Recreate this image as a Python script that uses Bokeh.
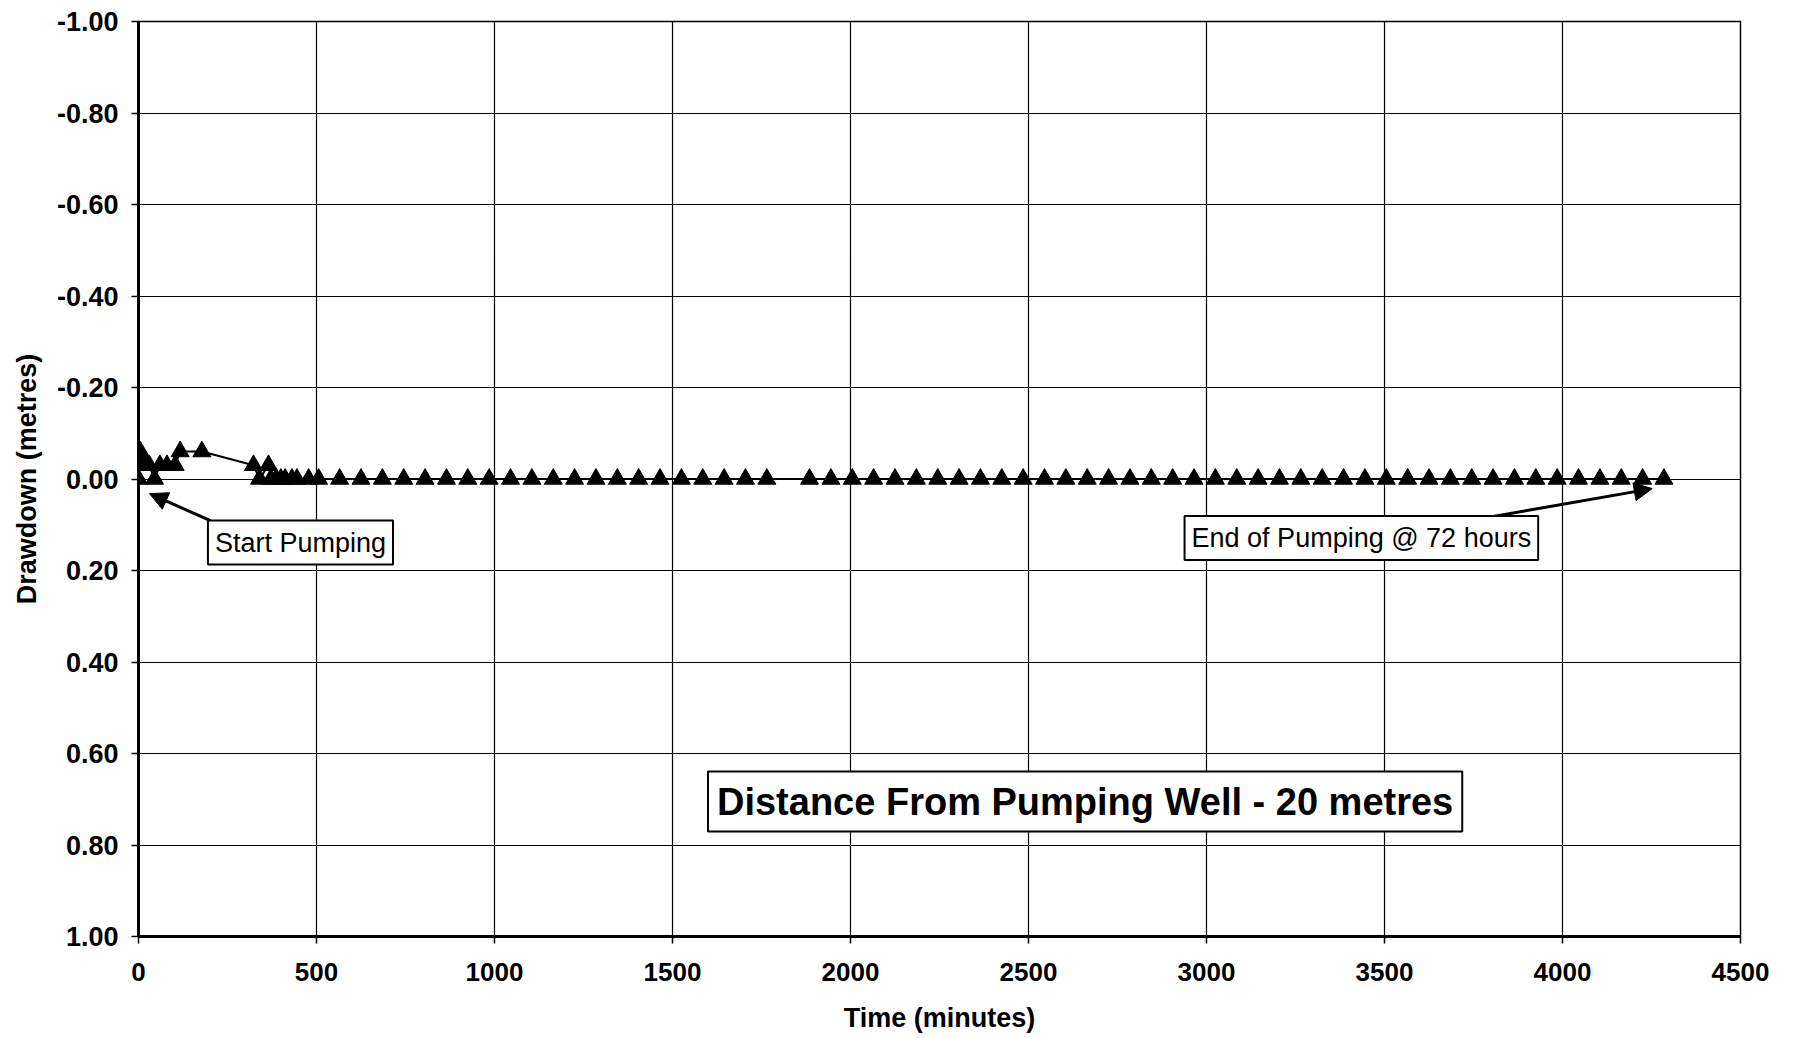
from bokeh.plotting import figure
from bokeh.models import (Range1d, FixedTicker, NumeralTickFormatter, Label,
                          Arrow, NormalHead, ColumnDataSource)
from bokeh.embed import file_html
from bokeh.resources import INLINE

# ---- data ----
time_min = [0, 5, 10, 20, 30, 45, 60, 80, 103, 117, 178, 323, 340, 365, 372,
            387, 400, 412, 431, 445, 478, 506,
            565, 625, 685, 745, 805, 865, 925, 985, 1045, 1105, 1165, 1225,
            1285, 1345, 1405, 1465, 1525, 1585, 1645, 1705, 1765,
            1885, 1945, 2005, 2065, 2125, 2185, 2245, 2305, 2365, 2425, 2485,
            2545, 2605, 2665, 2725, 2785, 2845, 2905, 2965, 3025, 3085, 3145,
            3205, 3265, 3325, 3385, 3445, 3505, 3565, 3625, 3685, 3745, 3805,
            3865, 3925, 3985, 4045, 4105, 4165, 4225, 4285]
drawdown_m = [0.00, -0.06, -0.03, -0.03, -0.03, 0.00, -0.03, -0.03, -0.03,
              -0.06, -0.06, -0.03, 0.00, -0.03, 0.00,
              0.00, 0.00, 0.00, 0.00, 0.00, 0.00, 0.00,
              0.00, 0.00, 0.00, 0.00, 0.00, 0.00, 0.00, 0.00, 0.00, 0.00, 0.00, 0.00,
              0.00, 0.00, 0.00, 0.00, 0.00, 0.00, 0.00, 0.00, 0.00,
              0.00, 0.00, 0.00, 0.00, 0.00, 0.00, 0.00, 0.00, 0.00, 0.00, 0.00,
              0.00, 0.00, 0.00, 0.00, 0.00, 0.00, 0.00, 0.00, 0.00, 0.00, 0.00,
              0.00, 0.00, 0.00, 0.00, 0.00, 0.00, 0.00, 0.00, 0.00, 0.00, 0.00,
              0.00, 0.00, 0.00, 0.00, 0.00, 0.00, 0.00, 0.00]

x_ticks = [0, 500, 1000, 1500, 2000, 2500, 3000, 3500, 4000, 4500]
x_tick_labels = ["0", "500", "1000", "1500", "2000", "2500", "3000", "3500",
                 "4000", "4500"]
y_ticks = [-1.0, -0.8, -0.6, -0.4, -0.2, 0.0, 0.2, 0.4, 0.6, 0.8, 1.0]
y_tick_labels = ["-1.00", "-0.80", "-0.60", "-0.40", "-0.20", "0.00", "0.20",
                 "0.40", "0.60", "0.80", "1.00"]

x_title = "Time (minutes)"
y_title = "Drawdown (metres)"
start_note = "Start Pumping"
end_note = "End of Pumping @ 72 hours"
distance_note = "Distance From Pumping Well - 20 metres"

FONT = "Liberation Sans"

p = figure(frame_width=1602, frame_height=915,
           min_border_left=138, min_border_right=50,
           min_border_top=21, min_border_bottom=94,
           x_range=Range1d(0, 4500), y_range=Range1d(1.0, -1.0),
           output_backend="svg", toolbar_location=None)

p.background_fill_color = "white"
p.border_fill_color = "white"
p.outline_line_color = "black"
p.outline_line_width = 1.5

# axes
p.xaxis.ticker = FixedTicker(ticks=x_ticks)
p.xaxis.major_label_overrides = dict(zip(x_ticks, x_tick_labels))
p.yaxis.ticker = FixedTicker(ticks=y_ticks)
p.yaxis.formatter = NumeralTickFormatter(format="0.00")
p.yaxis.major_label_overrides = dict(zip(y_ticks, y_tick_labels))

for ax in (p.xaxis, p.yaxis):
    ax.axis_line_color = "black"
    ax.axis_line_width = 3
    ax.major_tick_line_color = "black"
    ax.major_tick_line_width = 1.5
    ax.major_tick_out = 7
    ax.major_tick_in = 0
    ax.minor_tick_line_color = None
    ax.major_label_text_font = FONT
    ax.major_label_text_font_style = "bold"
    ax.major_label_text_color = "black"
    ax.axis_label_text_font = FONT
    ax.axis_label_text_font_style = "bold"
    ax.axis_label_text_font_size = "27px"
    ax.axis_label_text_color = "black"

p.xaxis.major_label_text_font_size = "26px"
p.yaxis.major_label_text_font_size = "27px"
p.xaxis.axis_label = x_title
p.yaxis.axis_label = y_title
p.xaxis.major_label_standoff = 19
p.yaxis.major_label_standoff = 13
p.xaxis.axis_label_standoff = 19
p.yaxis.axis_label_standoff = 12

p.xgrid.ticker = FixedTicker(ticks=x_ticks)
p.ygrid.ticker = FixedTicker(ticks=y_ticks)
for g in (p.xgrid, p.ygrid):
    g.grid_line_color = "black"
    g.grid_line_width = 1.2

# series
src = ColumnDataSource(dict(t=time_min, d=drawdown_m))
p.line("t", "d", source=src, line_color="black", line_width=2)
p.scatter("t", "d", source=src, marker="triangle", size=18,
          fill_color="black", line_color="black", line_width=1)

# annotations
p.add_layout(Arrow(end=NormalHead(size=18, fill_color="black", line_color="black"),
                   x_start=202, y_start=0.091, x_end=31, y_end=0.032,
                   line_color="black", line_width=3))
p.add_layout(Arrow(end=NormalHead(size=18, fill_color="black", line_color="black"),
                   x_start=3761, y_start=0.088, x_end=4252, y_end=0.021,
                   line_color="black", line_width=3))

p.add_layout(Label(x=455, y=0.139, text=start_note, text_align="center",
                   text_baseline="middle", text_font=FONT,
                   text_font_size="27px", text_color="black",
                   background_fill_color="white", border_line_color="black",
                   border_line_width=2, padding=7))
p.add_layout(Label(x=3435, y=0.129, text=end_note, text_align="center",
                   text_baseline="middle", text_font=FONT,
                   text_font_size="27px", text_color="black",
                   background_fill_color="white", border_line_color="black",
                   border_line_width=2, padding=7))
p.add_layout(Label(x=2659, y=0.705, text=distance_note, text_align="center",
                   text_baseline="middle", text_font=FONT,
                   text_font_size="38px", text_font_style="bold",
                   text_color="black",
                   background_fill_color="white", border_line_color="black",
                   border_line_width=2, padding=9))

open("out.html", "w").write(file_html(p, INLINE))
